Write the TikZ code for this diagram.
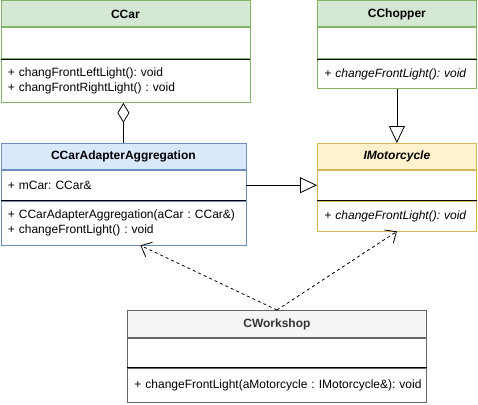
\documentclass[tikz,border=0pt]{standalone}
\usepackage{fontspec}
\setmainfont{Liberation Sans}
\usetikzlibrary{positioning,arrows.meta}
\definecolor{greenfill}{HTML}{D5E8D4}
\definecolor{greenline}{HTML}{82B366}
\definecolor{bluefill}{HTML}{DAE8FC}
\definecolor{blueline}{HTML}{6C8EBF}
\definecolor{yellowfill}{HTML}{FFF2CC}
\definecolor{yellowline}{HTML}{D6B656}
\definecolor{greyfill}{HTML}{F5F5F5}
\definecolor{greyline}{HTML}{666666}
\definecolor{greytext}{HTML}{333333}
\begin{document}
\begin{tikzpicture}[x=1pt, y=-1pt, line width=0.8pt,
headnode/.style={rectangle, draw, anchor=north west, inner sep=0pt, minimum height=26pt, font=\fontsize{12}{14.7}\selectfont\bfseries},
partnode/.style={rectangle, draw, inner xsep=7pt, inner ysep=0pt, align=left, font=\fontsize{12}{14.7}\selectfont\frenchspacing},
aggregation/.style={{Diamond[open, length=20pt, width=12pt]}-},
generalization/.style={-{Triangle[open, length=17pt, width=16pt]}},
dependency/.style={dashed, -{Straight Barb[length=9pt, width=16pt]}},
]
\useasboundingbox (0,0) rectangle (478,404);
%Nodes
\node[headnode, fill=greenfill, draw=greenline, minimum width=249pt]   (CCar)     at (0.5,0.5)   {CCar};
\node[partnode, draw=greenline, text width=235pt, minimum height=31pt] (CCarAttr) [below=0pt of CCar] {};
\node[partnode, draw=greenline, text width=235pt, minimum height=43pt] (CCarOps)  [below=0pt of CCarAttr] {+ changFrontLeftLight(): void\\+ changFrontRightLight() : void};

\node[headnode, fill=greenfill, draw=greenline, minimum width=159pt]   (Chopper)     at (317,0.5) {CChopper};
\node[partnode, draw=greenline, text width=145pt, minimum height=31pt] (ChopperAttr) [below=0pt of Chopper] {};
\node[partnode, draw=greenline, text width=145pt, minimum height=29pt] (ChopperOps)  [below=0pt of ChopperAttr] {\itshape + changeFrontLight(): void};

\node[headnode, fill=bluefill, draw=blueline, minimum width=245pt]   (Adapter)     at (0.5,143) {CCarAdapterAggregation};
\node[partnode, draw=blueline, text width=231pt, minimum height=30pt] (AdapterAttr) [below=0pt of Adapter] {+ mCar: CCar\&};
\node[partnode, draw=blueline, text width=231pt, minimum height=44pt] (AdapterOps)  [below=0pt of AdapterAttr] {+ CCarAdapterAggregation(aCar : CCar\&)\\+ changeFrontLight() : void};

\node[headnode, fill=yellowfill, draw=yellowline, minimum width=159pt, font=\fontsize{12}{14.7}\selectfont\bfseries\itshape] (Motorcycle) at (317,143) {IMotorcycle};
\node[partnode, draw=yellowline, text width=145pt, minimum height=30pt] (MotorcycleAttr) [below=0pt of Motorcycle] {};
\node[partnode, draw=yellowline, text width=145pt, minimum height=30pt] (MotorcycleOps)  [below=0pt of MotorcycleAttr] {\itshape + changeFrontLight(): void};

\node[headnode, fill=greyfill, draw=greyline, text=greytext, minimum width=299pt, minimum height=27pt] (Workshop) at (127,310) {CWorkshop};
\node[partnode, draw=greyline, text width=285pt, minimum height=29pt] (WorkshopAttr) [below=0pt of Workshop] {};
\node[partnode, draw=greyline, text width=285pt, minimum height=34pt] (WorkshopOps)  [below=0pt of WorkshopAttr] {\mbox{+ changeFrontLight(aMotorcycle : IMotorcycle\&): void}};

%Separators
\draw (CCarAttr.south west) -- (CCarAttr.south east);
\draw (ChopperAttr.south west) -- (ChopperAttr.south east);
\draw (AdapterAttr.south west) -- (AdapterAttr.south east);
\draw (MotorcycleAttr.south west) -- (MotorcycleAttr.south east);
\draw (WorkshopAttr.south west) -- (WorkshopAttr.south east);

%Lines
\draw[aggregation] (CCarOps.south -| Adapter.north) -- (Adapter.north);
\draw[generalization] (ChopperOps.south) -- (Motorcycle.north);
\draw[generalization] (AdapterAttr.east) -- (MotorcycleAttr.west);
\draw[dependency] (Workshop.north) -- ([xshift=17pt]AdapterOps.south);
\draw[dependency] (Workshop.north) -- (MotorcycleOps.south);

\end{tikzpicture}
\end{document}
